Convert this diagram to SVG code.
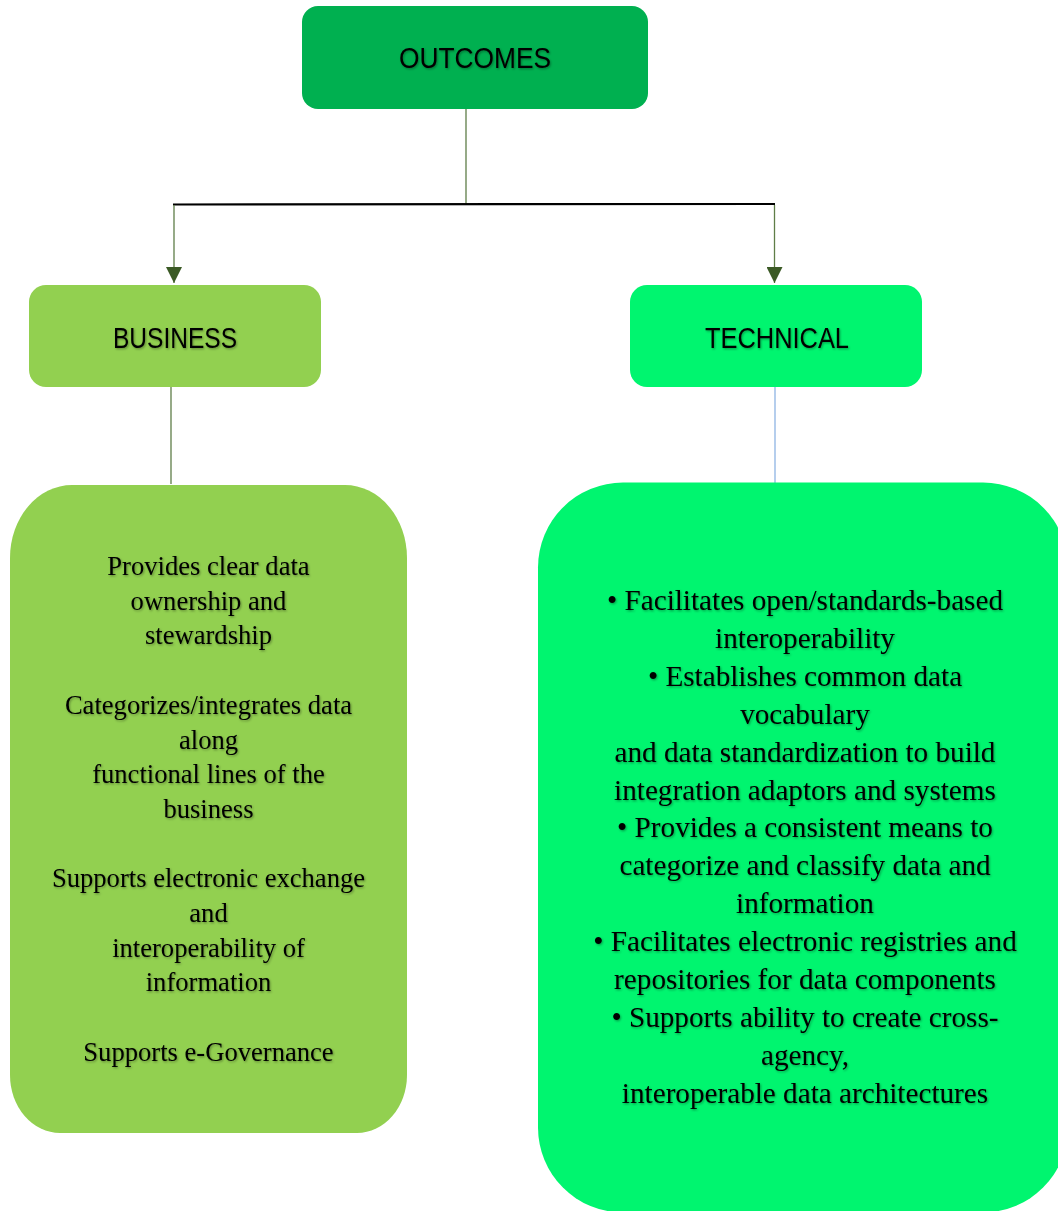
<svg xmlns="http://www.w3.org/2000/svg" width="1058" height="1211" viewBox="0 0 1058 1211">
  <defs>
    <style>
      .head { font-family: "Liberation Sans", Arial, sans-serif; font-size: 29px; fill: #000; text-anchor: middle; }
      .body { font-family: "Liberation Serif", "Times New Roman", serif; fill: #000; text-anchor: middle; }
      .left { font-size: 26.6px; }
      .right { font-size: 29.2px; }
      .link { fill: none; stroke: #5f7d47; stroke-width: 1.3; }
    </style>
    <filter id="soft" x="-5%" y="-20%" width="110%" height="140%">
      <feDropShadow dx="1" dy="1.2" stdDeviation="0.9" flood-color="#000" flood-opacity="0.35"/>
    </filter>
    <marker id="arrow" viewBox="0 0 16 16" refX="16" refY="8" markerWidth="16" markerHeight="16" markerUnits="userSpaceOnUse" orient="auto">
      <path d="M0,0 L16,8 L0,16 Z" fill="#3b5a25"/>
    </marker>
  </defs>

  <rect width="1058" height="1211" fill="#fff"/>

  <!-- connectors -->
  <g id="connectors">
    <line class="link" x1="466" y1="109" x2="466" y2="204"/>
    <line x1="173" y1="204.5" x2="775" y2="204" stroke="#000" stroke-width="2.2"/>
    <line class="link" x1="174" y1="205" x2="174" y2="283" marker-end="url(#arrow)"/>
    <line class="link" x1="774.5" y1="205" x2="774.5" y2="283" marker-end="url(#arrow)"/>
    <line class="link" x1="171" y1="385" x2="171" y2="484"/>
    <line x1="775" y1="387" x2="775" y2="484" stroke="#8eb4e3" stroke-width="1.3"/>
  </g>

  <!-- top node -->
  <g id="outcomes">
    <rect x="302" y="6" width="346" height="103" rx="16" fill="#00b050"/>
    <text class="head" x="475" y="68" textLength="152" lengthAdjust="spacingAndGlyphs" filter="url(#soft)">OUTCOMES</text>
  </g>

  <!-- category nodes -->
  <g id="business">
    <rect x="29" y="285" width="292" height="102" rx="17" fill="#92d050"/>
    <text class="head" x="175" y="348" textLength="124" lengthAdjust="spacingAndGlyphs" filter="url(#soft)">BUSINESS</text>
  </g>

  <g id="technical">
    <rect x="630" y="285" width="292" height="102" rx="17" fill="#00f56f"/>
    <text class="head" x="777" y="348" textLength="144" lengthAdjust="spacingAndGlyphs" filter="url(#soft)">TECHNICAL</text>
  </g>

  <!-- business detail -->
  <g id="business-detail">
    <path d="M72,485 L345,485 A62,73 0 0 1 407,558 L407,1075 A50,58 0 0 1 357,1133 L60,1133 A50,58 0 0 1 10,1075 L10,558 A62,73 0 0 1 72,485 Z" fill="#92d050"/>
    <g class="body left" filter="url(#soft)">
      <text x="208.5" y="575">Provides clear data</text>
      <text x="208.5" y="609.7">ownership and</text>
      <text x="208.5" y="644.4">stewardship</text>
      <text x="208.5" y="713.8">Categorizes/integrates data</text>
      <text x="208.5" y="748.5">along</text>
      <text x="208.5" y="783.2">functional lines of the</text>
      <text x="208.5" y="817.9">business</text>
      <text x="208.5" y="887.3">Supports electronic exchange</text>
      <text x="208.5" y="922">and</text>
      <text x="208.5" y="956.7">interoperability of</text>
      <text x="208.5" y="991.4">information</text>
      <text x="208.5" y="1060.8">Supports e-Governance</text>
    </g>
  </g>

  <!-- technical detail -->
  <g id="technical-detail">
    <rect x="538" y="482.5" width="530" height="730" rx="85" ry="85" fill="#00f56f"/>
    <g class="body right" filter="url(#soft)">
      <text x="805" y="610">• Facilitates open/standards-based</text>
      <text x="805" y="647.9">interoperability</text>
      <text x="805" y="685.8">• Establishes common data</text>
      <text x="805" y="723.7">vocabulary</text>
      <text x="805" y="761.6">and data standardization to build</text>
      <text x="805" y="799.5">integration adaptors and systems</text>
      <text x="805" y="837.4">• Provides a consistent means to</text>
      <text x="805" y="875.3">categorize and classify data and</text>
      <text x="805" y="913.2">information</text>
      <text x="805" y="951.1">• Facilitates electronic registries and</text>
      <text x="805" y="989">repositories for data components</text>
      <text x="805" y="1026.9">• Supports ability to create cross-</text>
      <text x="805" y="1064.8">agency,</text>
      <text x="805" y="1102.7">interoperable data architectures</text>
    </g>
  </g>
</svg>
